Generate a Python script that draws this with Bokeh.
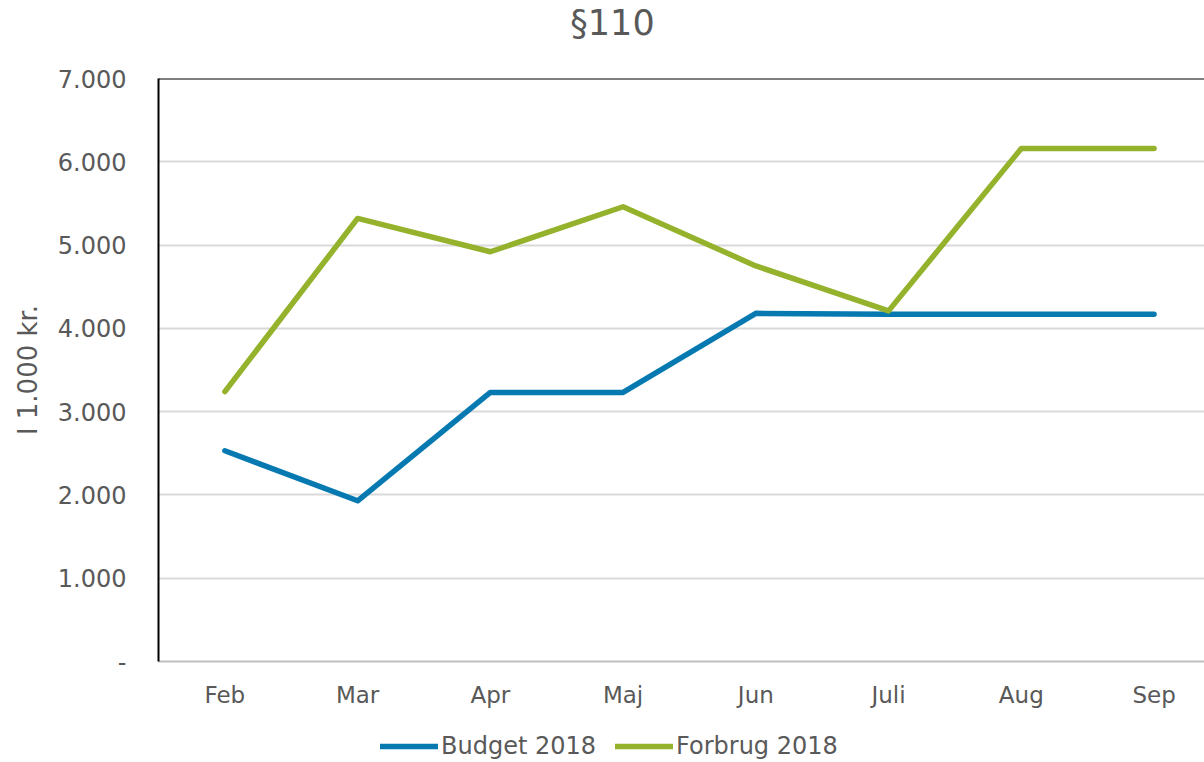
from bokeh.plotting import figure
from bokeh.layouts import column
from bokeh.models import Range1d, FixedTicker, Legend, LegendItem, Label, Span
from bokeh.embed import file_html
from bokeh.resources import INLINE

title_text = "§110"
months = ["Feb", "Mar", "Apr", "Maj", "Jun", "Juli", "Aug", "Sep"]
budget_2018 = [2530, 1930, 3230, 3230, 4180, 4170, 4170, 4170]
forbrug_2018 = [3240, 5320, 4920, 5460, 4750, 4210, 6160, 6160]
y_ticks = [0, 1000, 2000, 3000, 4000, 5000, 6000, 7000]
y_tick_labels = ["-", "1.000", "2.000", "3.000", "4.000", "5.000", "6.000", "7.000"]
series_names = ["Budget 2018", "Forbrug 2018"]

FONT = "DejaVu Sans"
GREY = "#595959"
BLUE = "#0679B1"
GREEN = "#95B22C"
LEFT = 158
LW = 5.5

xs = list(range(len(months)))


def strip(h):
    f = figure(width=1204, height=h, output_backend="svg", toolbar_location=None,
               x_range=Range1d(0, 1), y_range=Range1d(0, 1),
               x_axis_type=None, y_axis_type=None,
               min_border_left=LEFT, min_border_right=0, min_border_top=0, min_border_bottom=0)
    f.outline_line_color = None
    f.grid.grid_line_color = None
    f.background_fill_color = "white"
    f.border_fill_color = "white"
    return f


# title strip
pt = strip(44)
pt.add_layout(Label(x=454, y=22, x_units="screen", y_units="screen", text=title_text,
                    text_align="center", text_baseline="alphabetic",
                    text_font=FONT, text_font_size="35px", text_color=GREY))

# main chart
p = figure(width=1204, height=668, output_backend="svg", toolbar_location=None,
           x_range=Range1d(-0.5, 7.38), y_range=Range1d(0, 7000),
           min_border_left=LEFT, min_border_right=0, min_border_top=34,
           min_border_bottom=51)
p.outline_line_color = None
p.background_fill_color = "white"
p.border_fill_color = "white"

xa = p.xaxis[0]
xa.ticker = FixedTicker(ticks=xs)
xa.major_label_overrides = {i: m for i, m in enumerate(months)}
xa.major_label_text_font = FONT
xa.major_label_text_font_size = "23px"
xa.major_label_text_color = GREY
xa.major_label_standoff = 14
xa.major_tick_line_color = None
xa.minor_tick_line_color = None
xa.axis_line_color = "#BFBFBF"
xa.axis_line_width = 2

ya = p.yaxis[0]
ya.ticker = FixedTicker(ticks=y_ticks)
ya.major_label_overrides = {v: l for v, l in zip(y_ticks, y_tick_labels)}
ya.major_label_text_font = FONT
ya.major_label_text_font_size = "24px"
ya.major_label_text_color = GREY
ya.major_label_standoff = 26
ya.major_tick_line_color = None
ya.minor_tick_line_color = None
ya.axis_line_color = "black"
ya.axis_line_width = 2
ya.axis_label = "I 1.000 kr."
ya.axis_label_text_font = FONT
ya.axis_label_text_font_size = "26px"
ya.axis_label_text_color = GREY
ya.axis_label_text_font_style = "normal"
ya.axis_label_standoff = 12

p.add_layout(Span(location=y_ticks[-1], dimension="width", line_color="black", line_width=2))

p.xgrid.grid_line_color = None
p.ygrid.ticker = FixedTicker(ticks=y_ticks[1:])
p.ygrid.grid_line_color = "#D9D9D9"
p.ygrid.grid_line_width = 2

p.line(xs, budget_2018, line_color=BLUE, line_width=LW, line_cap="round", line_join="round")
p.line(xs, forbrug_2018, line_color=GREEN, line_width=LW, line_cap="round", line_join="round")

# legend strip (series drawn off-view there, only their legend entries show)
p2 = strip(50)
l1 = p2.line(xs, budget_2018, line_color=BLUE, line_width=LW, line_cap="round")
l2 = p2.line(xs, forbrug_2018, line_color=GREEN, line_width=LW, line_cap="round")

legend = Legend(items=[LegendItem(label=series_names[0], renderers=[l1]),
                       LegendItem(label=series_names[1], renderers=[l2])],
                orientation="horizontal", location=(222, 2),
                glyph_width=58, glyph_height=24, label_standoff=3, spacing=19,
                label_text_font=FONT, label_text_font_size="24px", label_text_color=GREY,
                border_line_color=None, background_fill_alpha=0, padding=0, margin=0)
p2.add_layout(legend, "center")

open("out.html", "w").write(file_html(column(pt, p, p2, spacing=0), INLINE))
